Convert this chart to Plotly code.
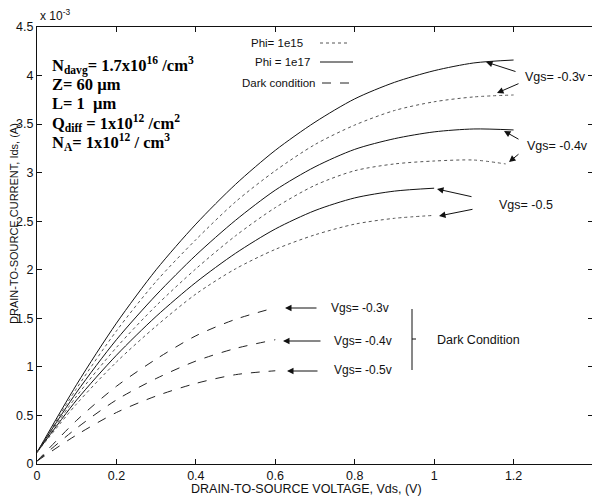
import plotly.graph_objects as go

# ---- data (current in units of 1e-3 A) ----
vds_photo = [0, 0.1, 0.2, 0.3, 0.4, 0.5, 0.6, 0.7, 0.8, 0.9, 1.0, 1.1, 1.2]
ph17_m03 = [0.12, 0.82, 1.45, 2.00, 2.47, 2.88, 3.23, 3.52, 3.76, 3.93, 4.05, 4.13, 4.16]
ph15_m03 = [0.12, 0.78, 1.37, 1.88, 2.31, 2.70, 3.02, 3.29, 3.49, 3.64, 3.73, 3.78, 3.80]
ph17_m04 = [0.12, 0.74, 1.28, 1.74, 2.15, 2.51, 2.82, 3.06, 3.24, 3.35, 3.42, 3.45, 3.44]
vds_m04_15 = [0, 0.1, 0.2, 0.3, 0.4, 0.5, 0.6, 0.7, 0.8, 0.9, 1.0, 1.1, 1.18]
ph15_m04 = [0.12, 0.70, 1.20, 1.63, 2.01, 2.35, 2.64, 2.87, 3.02, 3.09, 3.12, 3.13, 3.09]
vds_m05 = [0, 0.1, 0.2, 0.3, 0.4, 0.5, 0.6, 0.7, 0.8, 0.9, 1.0]
ph17_m05 = [0.12, 0.66, 1.12, 1.52, 1.87, 2.17, 2.42, 2.61, 2.74, 2.81, 2.84]
ph15_m05 = [0.12, 0.62, 1.05, 1.42, 1.75, 2.01, 2.21, 2.36, 2.47, 2.53, 2.56]

vds_dark = [0, 0.1, 0.2, 0.3, 0.4, 0.5, 0.6]
dark_m03 = [0.03, 0.45, 0.80, 1.08, 1.32, 1.49, 1.61]
dark_m04 = [0.03, 0.37, 0.66, 0.88, 1.06, 1.19, 1.28]
dark_m05 = [0.03, 0.30, 0.53, 0.70, 0.83, 0.92, 0.96]

x_ticks = [0, 0.2, 0.4, 0.6, 0.8, 1.0, 1.2, 1.4]
x_tick_text = ["0", "0.2", "0.4", "0.6", "0.8", "1", "1.2", "1.4"]
y_ticks = [0, 0.5, 1, 1.5, 2, 2.5, 3, 3.5, 4, 4.5]
y_tick_text = ["0", "0.5", "1", "1.5", "2", "2.5", "3", "3.5", "4", "4.5"]

SANS = "Liberation Sans, Arial, sans-serif"
SERIF = "Liberation Serif, Times New Roman, serif"

fig = go.Figure()

def add(x, y, dash, color, width=1.0):
    fig.add_trace(go.Scatter(x=x, y=y, mode="lines",
                             line=dict(color=color, width=width, dash=dash,
                                       shape="spline", smoothing=0.8),
                             showlegend=False, hoverinfo="skip"))

add(vds_photo, ph17_m03, "solid", "#111")
add(vds_photo, ph15_m03, "dot", "#555")
add(vds_photo, ph17_m04, "solid", "#111")
add(vds_m04_15, ph15_m04, "dot", "#555")
add(vds_m05, ph17_m05, "solid", "#111")
add(vds_m05, ph15_m05, "dot", "#555")
add(vds_dark, dark_m03, "dash", "#222")
add(vds_dark, dark_m04, "dash", "#222")
add(vds_dark, dark_m05, "dash", "#222")

# page offset of the figure (default body margin)
OFF = 8
# plot area in page pixels
L, R, T, B = 37, 593, 27, 464
def px(xp):
    return (xp - L) / (R - L)
def py(yp):
    return (B - yp) / (B - T)

ann = []
def text(x, y, s, size=12, anchor="left", font=SANS, color="#111"):
    ann.append(dict(x=px(x), y=py(y), xref="paper", yref="paper", text=s,
                    showarrow=False, xanchor=anchor, yanchor="middle",
                    font=dict(family=font, size=size, color=color)))

def arrow(hx, hy, tx, ty):
    ann.append(dict(x=px(hx), y=py(hy), xref="paper", yref="paper", text="",
                    showarrow=True, arrowhead=2, arrowsize=1.3, arrowwidth=1,
                    arrowcolor="#111", ax=tx - hx, ay=ty - hy))

# parameter block
block = [
    "N<sub>davg</sub>= 1.7x10<sup>16</sup> /cm<sup>3</sup>",
    "Z= 60 \u00b5m",
    "L= 1  \u00b5m",
    "Q<sub>diff</sub> = 1x10<sup>12</sup> /cm<sup>2</sup>",
    "N<sub>A</sub>= 1x10<sup>12</sup> / cm<sup>3</sup>",
]
for i, s in enumerate(block):
    text(50, 65 + i * 19.3, "<b>" + s + "</b>", size=16.5, font=SERIF, color="#000")

# legend
text(305, 43, "Phi= 1e15", size=11.5, anchor="right")
text(312, 62, "Phi = 1e17", size=11.5, anchor="right")
text(318, 83, "Dark condition", size=11.5, anchor="right")
shapes = [
    dict(type="line", xref="paper", yref="paper", x0=px(320), x1=px(350), y0=py(43), y1=py(43),
         line=dict(color="#555", width=1, dash="dot")),
    dict(type="line", xref="paper", yref="paper", x0=px(320), x1=px(353), y0=py(62), y1=py(62),
         line=dict(color="#111", width=1)),
    dict(type="line", xref="paper", yref="paper", x0=px(322), x1=px(353), y0=py(83), y1=py(83),
         line=dict(color="#222", width=1, dash="dash")),
    # bracket for dark condition
    dict(type="line", xref="paper", yref="paper", x0=px(412), x1=px(412), y0=py(309), y1=py(370),
         line=dict(color="#111", width=1)),
    dict(type="line", xref="paper", yref="paper", x0=px(412), x1=px(416), y0=py(339), y1=py(339),
         line=dict(color="#111", width=1)),
]

# photo labels
text(523, 77, "Vgs= -0.3v", size=12.5)
arrow(486, 62, 517, 72)
arrow(497, 93, 520, 83)
text(525, 146, "Vgs= -0.4v", size=12.5)
arrow(504, 131, 520, 140)
arrow(509, 162, 520, 153)
text(497, 205, "Vgs= -0.5", size=12.5)
arrow(437, 189, 473, 197)
arrow(439, 216, 474, 209)

# dark labels
text(329, 308, "Vgs= -0.3v", size=12)
arrow(285, 308, 318, 308)
text(332, 341, "Vgs= -0.4v", size=12)
arrow(283, 341, 322, 341)
text(332, 370, "Vgs= -0.5v", size=12)
arrow(287, 371, 319, 371)
text(435, 340, "Dark Condition", size=12.5)

# exponent label
text(38, 15, "x 10<sup>-3</sup>", size=12)

# axis titles
ann.append(dict(x=px(306), y=py(489), xref="paper", yref="paper",
                text="DRAIN-TO-SOURCE VOLTAGE, Vds, (V)", showarrow=False,
                xanchor="center", yanchor="middle", font=dict(family=SANS, size=12.5, color="#111")))
ann.append(dict(x=px(14), y=py(224), xref="paper", yref="paper",
                text="DRAIN-TO-SOURCE CURRENT, Ids, (A)", showarrow=False, textangle=-90,
                xanchor="center", yanchor="middle", font=dict(family=SANS, size=11, color="#111")))

axis_common = dict(showgrid=False, zeroline=False, showline=True, linecolor="#111",
                   linewidth=1, mirror="ticks", ticks="inside", ticklen=5, tickcolor="#111",
                   tickfont=dict(family=SANS, size=12.5, color="#111"), automargin=False)

fig.update_layout(
    width=600 - OFF, height=497 - OFF,
    margin=dict(l=L - OFF, r=600 - R, t=T - OFF, b=497 - B),
    paper_bgcolor="white", plot_bgcolor="white",
    xaxis=dict(range=[0, 1.4], tickvals=x_ticks, ticktext=x_tick_text, **axis_common),
    yaxis=dict(range=[0, 4.5], tickvals=y_ticks, ticktext=y_tick_text, **axis_common),
    annotations=ann, shapes=shapes,
)

fig.write_html("out.html")
